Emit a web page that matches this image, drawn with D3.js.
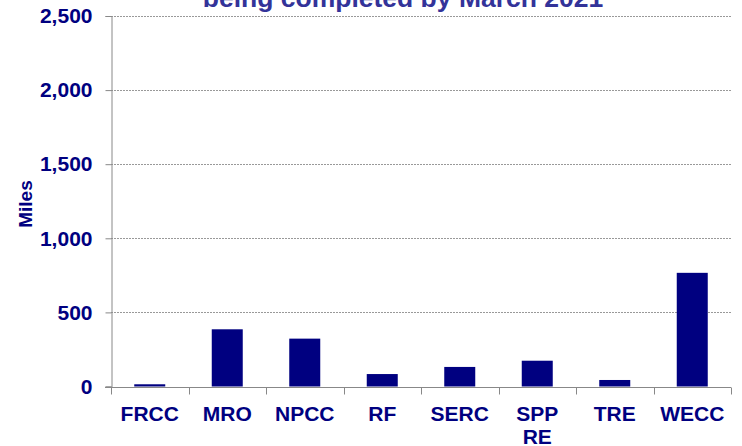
<!DOCTYPE html>
<html>
<head>
<meta charset="utf-8">
<script src="https://cdn.jsdelivr.net/npm/d3@7"></script>
<style>
  body { margin: 0; background: #fff; }
  text { font-family: "Liberation Sans", Arial, sans-serif; font-weight: bold; }
</style>
</head>
<body>
<div id="chart"></div>
<script>
const regions = ["FRCC", "MRO", "NPCC", "RF", "SERC", "SPP\nRE", "TRE", "WECC"];
const miles = [15, 386, 323, 84, 132, 174, 44, 767];
const yTicks = [0, 500, 1000, 1500, 2000, 2500];

const width = 742, height = 446;
const margin = { top: 16, right: 11, bottom: 59.5, left: 111 };
const navy = "#000080";

const svg = d3.select("#chart").append("svg")
    .attr("width", width)
    .attr("height", height);

const x = d3.scaleBand()
    .domain(regions)
    .range([margin.left, width - margin.right])
    .paddingInner(0.6)
    .paddingOuter(0.3);

const y = d3.scaleLinear()
    .domain([0, 2500])
    .range([height - margin.bottom, margin.top]);

// title (cut off at the top of the frame)
svg.append("text")
    .attr("x", 403)
    .attr("y", 7)
    .attr("text-anchor", "middle")
    .attr("font-size", 26.5)
    .attr("fill", "#333399")
    .text("being completed by March 2021");

// gridlines
svg.append("g")
    .selectAll("line")
    .data(yTicks.slice(1))
    .join("line")
    .attr("x1", margin.left)
    .attr("x2", width - margin.right)
    .attr("y1", d => Math.round(y(d)) + 0.5)
    .attr("y2", d => Math.round(y(d)) + 0.5)
    .attr("stroke", "#999")
    .attr("stroke-dasharray", "2,1");

// bars
svg.append("g")
    .selectAll("rect")
    .data(miles)
    .join("rect")
    .attr("x", (d, i) => x(regions[i]))
    .attr("y", d => y(d))
    .attr("width", x.bandwidth())
    .attr("height", d => y(0) - y(d))
    .attr("fill", navy);

// y axis
const yAxis = svg.append("g")
    .attr("transform", `translate(${margin.left + 0.5},0)`)
    .call(d3.axisLeft(y).tickValues(yTicks).tickSize(6).tickPadding(13).tickFormat(d3.format(",")));
yAxis.select(".domain").attr("stroke", "#888");
yAxis.selectAll(".tick line").attr("stroke", "#888");
yAxis.selectAll(".tick text")
    .attr("font-size", 21)
    .attr("fill", navy)
    .style("font-family", "'Liberation Sans', Arial, sans-serif");

// x axis: ticks sit between categories
const xAxisG = svg.append("g")
    .attr("transform", `translate(0,${Math.round(y(0)) + 0.5})`);
xAxisG.append("line")
    .attr("x1", margin.left - 6)
    .attr("x2", width - margin.right)
    .attr("stroke", "#888");
const bounds = d3.range(regions.length + 1).map(i => margin.left + i * (width - margin.left - margin.right) / regions.length);
xAxisG.selectAll(".sep")
    .data(bounds)
    .join("line")
    .attr("class", "sep")
    .attr("x1", d => Math.round(d) + 0.5)
    .attr("x2", d => Math.round(d) + 0.5)
    .attr("y1", 0)
    .attr("y2", 7)
    .attr("stroke", "#888");

const labels = xAxisG.selectAll(".lbl")
    .data(regions)
    .join("text")
    .attr("class", "lbl")
    .attr("text-anchor", "middle")
    .attr("font-size", 21)
    .attr("fill", navy)
    .attr("transform", d => `translate(${x(d) + x.bandwidth() / 2},0)`);
labels.selectAll("tspan")
    .data(d => d.split("\n"))
    .join("tspan")
    .attr("x", 0)
    .attr("y", (d, i) => 33.5 + i * 23)
    .text(d => d);

// y axis title
svg.append("text")
    .attr("transform", "translate(32,204) rotate(-90)")
    .attr("text-anchor", "middle")
    .attr("font-size", 19)
    .attr("fill", navy)
    .text("Miles");
</script>
</body>
</html>
